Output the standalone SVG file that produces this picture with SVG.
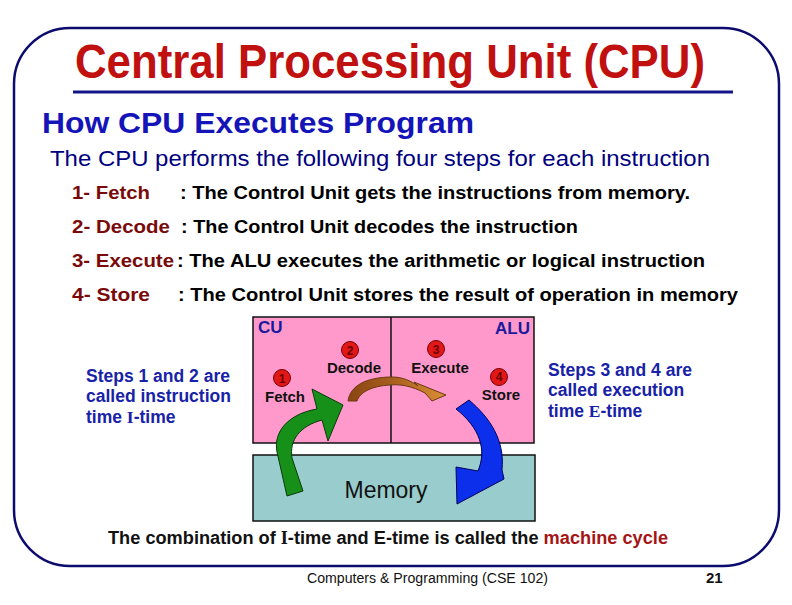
<svg xmlns="http://www.w3.org/2000/svg" width="792" height="605" viewBox="0 0 792 605">
<defs>
<style>
.sans{font-family:"Liberation Sans",Arial,sans-serif}
.title{font-family:"Liberation Sans",Arial,sans-serif;font-weight:bold;font-size:48px;fill:#C0100F}
.sub{font-family:"Liberation Sans",Arial,sans-serif;font-weight:bold;font-size:30px;fill:#1414B8}
.intro{font-family:"Liberation Sans",Arial,sans-serif;font-size:22px;fill:#000080}
.step{font-family:"Liberation Sans",Arial,sans-serif;font-weight:bold;font-size:18px;fill:#7A0A0A}
.desc{font-family:"Liberation Sans",Arial,sans-serif;font-weight:bold;font-size:18px;fill:#000}
.side{font-family:"Liberation Sans",Arial,sans-serif;font-weight:bold;font-size:17.5px;fill:#1822A8}
.serif{font-family:"Liberation Serif","Times New Roman",serif;font-weight:bold}
.lbl{font-family:"Liberation Sans",Arial,sans-serif;font-weight:bold;font-size:15px;fill:#111}
.unit{font-family:"Liberation Sans",Arial,sans-serif;font-weight:bold;font-size:17px;fill:#1A1A9A}
.num{font-family:"Liberation Sans",Arial,sans-serif;font-weight:bold;font-size:12px;fill:#6A0000;text-anchor:middle}
.badge{fill:#E21818;stroke:#7A0000;stroke-width:1}
.arrow{stroke-width:1;stroke-linejoin:round}
</style>
<linearGradient id="brownGrad" x1="348" y1="0" x2="446" y2="0" gradientUnits="userSpaceOnUse">
<stop offset="0" stop-color="#8A4512"/>
<stop offset="0.45" stop-color="#A85E1E"/>
<stop offset="1" stop-color="#DC8E35"/>
</linearGradient>
</defs>
<rect width="792" height="605" fill="#fff"/>
<rect x="14" y="28" width="765" height="538" rx="56" ry="56" fill="none" stroke="#0C0C6E" stroke-width="2.5"/>
<text class="title" x="75" y="78" textLength="630" lengthAdjust="spacingAndGlyphs">Central Processing Unit (CPU)</text>
<line x1="73" y1="92" x2="733" y2="92" stroke="#14148A" stroke-width="3"/>
<text class="sub" x="42" y="133" textLength="432" lengthAdjust="spacingAndGlyphs">How CPU Executes Program</text>
<text class="intro" x="50" y="166" textLength="660" lengthAdjust="spacingAndGlyphs">The CPU performs the following four steps for each instruction</text>

<g id="steps">
<text class="step" x="72" y="199" textLength="78" lengthAdjust="spacingAndGlyphs">1- Fetch</text>
<text class="desc" x="180" y="199" textLength="510" lengthAdjust="spacingAndGlyphs">: The Control Unit gets the instructions from memory.</text>
<text class="step" x="72" y="233" textLength="98" lengthAdjust="spacingAndGlyphs">2- Decode</text>
<text class="desc" x="181" y="233" textLength="397" lengthAdjust="spacingAndGlyphs">: The Control Unit decodes the instruction</text>
<text class="step" x="72" y="267" textLength="102" lengthAdjust="spacingAndGlyphs">3- Execute</text>
<text class="desc" x="177" y="267" textLength="528" lengthAdjust="spacingAndGlyphs">: The ALU executes the arithmetic or logical instruction</text>
<text class="step" x="72" y="301" textLength="78" lengthAdjust="spacingAndGlyphs">4- Store</text>
<text class="desc" x="178" y="301" textLength="560" lengthAdjust="spacingAndGlyphs">: The Control Unit stores the result of operation in memory</text>
</g>

<g id="cpu">
<rect x="253" y="317" width="281" height="126" fill="#FF99CC" stroke="#111" stroke-width="1.5"/>
<line x1="391" y1="317" x2="391" y2="443" stroke="#111" stroke-width="1.5"/>
<text class="unit" x="258" y="333">CU</text>
<text class="unit" x="530" y="334" text-anchor="end">ALU</text>
</g>

<g id="memory">
<rect x="253" y="455" width="282" height="66" fill="#99CCCC" stroke="#111" stroke-width="1.5"/>
<text class="sans" x="386" y="498" font-size="23" text-anchor="middle" fill="#111">Memory</text>
</g>

<g id="fetch">
<circle class="badge" cx="282" cy="378" r="8.5"/>
<text class="num" x="282" y="382.5">1</text>
<text class="lbl" x="265" y="402">Fetch</text>
</g>
<g id="decode">
<circle class="badge" cx="350" cy="350" r="8.5"/>
<text class="num" x="350" y="354.5">2</text>
<text class="lbl" x="354" y="373" text-anchor="middle">Decode</text>
</g>
<g id="execute">
<circle class="badge" cx="436" cy="349" r="8.5"/>
<text class="num" x="436" y="353.5">3</text>
<text class="lbl" x="440" y="373" text-anchor="middle">Execute</text>
</g>
<g id="store">
<circle class="badge" cx="499" cy="377" r="8.5"/>
<text class="num" x="499" y="381">4</text>
<text class="lbl" x="501" y="400" text-anchor="middle">Store</text>
</g>

<g id="connectors">
<path class="arrow" d="M287,496 L277,452 C273,432 288,414 317,409 L312,389 L343,405 L328,441 L322,420 C300,426 289,440 292,458 L303,491 Z" fill="#17901A" stroke="#0A3A0A"/>
<path class="arrow" d="M348,401 C350,386 366,377 392,377 C403,377 411,381 418,386 L414,382 L446,395 L432,401 L425,393 C412,386 400,384 390,385 C372,386 360,392 357,401 Z" fill="url(#brownGrad)" stroke="#6A3A10" stroke-width="0.6"/>
<path class="arrow" d="M456,409 L469,400 C490,418 505,440 502,470 L504,479 L457,504 L456,467 L478,471 C487,450 480,428 456,409 Z" fill="#0B2FEA" stroke="#00005A"/>
</g>

<g id="itime-note">
<text class="side" x="86" y="382">Steps 1 and 2 are</text>
<text class="side" x="86" y="402">called instruction</text>
<text class="side" x="86" y="423">time <tspan class="serif">I</tspan>-time</text>
</g>
<g id="etime-note">
<text class="side" x="548" y="376">Steps 3 and 4 are</text>
<text class="side" x="548" y="396">called execution</text>
<text class="side" x="548" y="417">time <tspan class="serif">E</tspan>-time</text>
</g>

<text class="sans" x="108" y="544" font-size="18" font-weight="bold" fill="#111" textLength="560" lengthAdjust="spacingAndGlyphs">The combination of  <tspan class="serif">I</tspan>-time and E-time is called the <tspan fill="#A51515">machine cycle</tspan></text>
<text class="sans" x="307" y="583" font-size="14" fill="#111" textLength="241" lengthAdjust="spacingAndGlyphs">Computers &amp; Programming (CSE 102)</text>
<text class="sans" x="706" y="583" font-size="15" font-weight="bold" fill="#111">21</text>
</svg>
